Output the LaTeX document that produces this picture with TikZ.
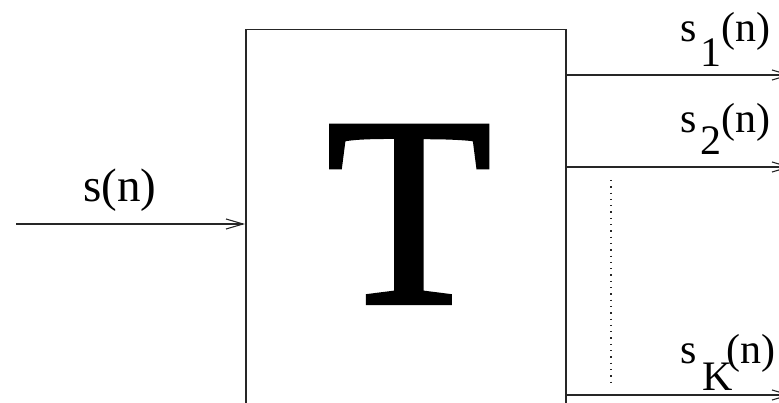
\documentclass[tikz,border=0pt]{standalone}
\usepackage{fontspec}
\setmainfont{Liberation Serif}
\newfontfamily\heavyT[FakeBold=1.5]{Liberation Serif}
\usetikzlibrary{arrows.meta}
\begin{document}
\begin{tikzpicture}[x=1pt,y=-1pt,
  ln/.style={draw=black!85,line width=1.5pt},
  arr/.style={ln,-{Straight Barb[length=17pt,width=10pt,line width=1.1pt]}},
  lbl/.style={anchor=base west,inner sep=0pt,font=\fontsize{42}{48}\selectfont},
  inlbl/.style={anchor=base west,inner sep=0pt,font=\fontsize{47}{52}\selectfont},
  big/.style={inner sep=0pt,font=\heavyT\fontsize{271}{271}\selectfont}]
\useasboundingbox (0,0) rectangle (779,403);
\clip (0,0) rectangle (779,403);
\node[ln,draw,minimum width=320pt,minimum height=420pt,inner sep=0pt,anchor=north west] (box) at (245,29) {};
\node[big,anchor=base] (T) at (409,303) {T};
\coordinate (in) at (16,224);
\draw[arr] (in) -- (box.west |- in);
\node[inlbl] (lin) at (83,202) {s(n)};
\coordinate (o1) at (791,75);
\coordinate (o2) at (791,167);
\coordinate (oK) at (791,395);
\draw[arr] (box.east |- o1) -- (o1);
\draw[arr] (box.east |- o2) -- (o2);
\draw[arr] (box.east |- oK) -- (oK);
\node[lbl] (l1) at (680,42) {s\hspace{4pt}\raisebox{-25pt}{1}(n)};
\node[lbl] (l2) at (680,133) {s\hspace{4pt}\raisebox{-22pt}{2}(n)};
\node[lbl] (lK) at (680,363) {s\hspace{6pt}\raisebox{-27pt}{K}\hspace{-6pt}(n)};
\coordinate (d1) at (611,180);
\coordinate (d2) at (611,384);
\draw[black!85,line width=1.3pt,dash pattern=on 1.3pt off 5pt] (d1) -- (d2);
\end{tikzpicture}
\end{document}
